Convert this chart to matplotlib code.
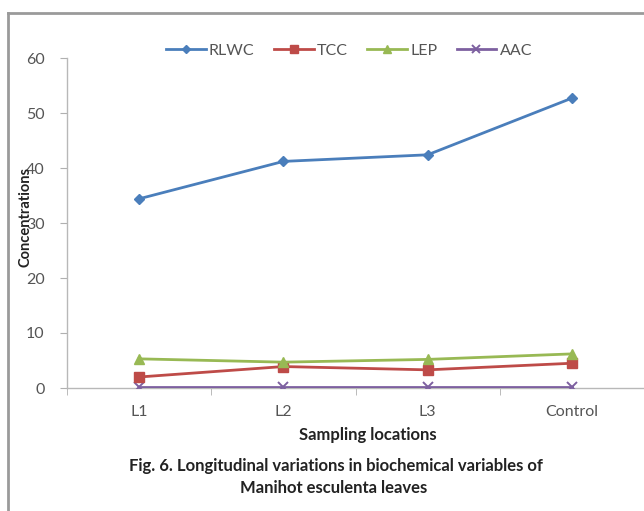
import matplotlib
matplotlib.use("Agg")
import matplotlib.pyplot as plt
from matplotlib.lines import Line2D
import numpy as np

plt.rcParams['font.family'] = ['Lato', 'DejaVu Sans']

categories = ["L1", "L2", "L3", "Control"]
rlwc = [34.4, 41.2, 42.4, 52.7]
tcc = [2.0, 3.9, 3.3, 4.5]
lep = [5.3, 4.7, 5.2, 6.2]
aac = [0.1, 0.1, 0.1, 0.1]
yticks = [0, 10, 20, 30, 40, 50, 60]

W, H = 644, 511
fig = plt.figure(figsize=(W / 100, H / 100), dpi=100)
fig.patch.set_facecolor("white")

# outer chart border (left and top visible)
fig.add_artist(Line2D([8 / W, 8 / W], [0, 1 - 13 / H], transform=fig.transFigure, color="#9a9a9a", lw=2))
fig.add_artist(Line2D([8 / W, 1], [1 - 13 / H, 1 - 13 / H], transform=fig.transFigure, color="#9a9a9a", lw=2))

left, right = 67 / W, 644 / W
bottom, top = 1 - 388 / H, 1 - 58 / H
ax = fig.add_axes([left, bottom, right - left, top - bottom])
x = np.arange(len(categories))

ax.plot(x, rlwc, color="#4A7EBB", lw=2.0, marker="D", ms=5.5, label="RLWC", zorder=5)
ax.plot(x, tcc, color="#BE4B48", lw=2.0, marker="s", ms=6.5, label="TCC", zorder=4)
ax.plot(x, lep, color="#98B954", lw=2.0, marker="^", ms=7.5, label="LEP", zorder=4)
ax.plot(x, aac, color="#7D60A0", lw=2.0, marker="x", ms=6.5, mew=1.4, label="AAC", zorder=3)

ax.set_xlim(-0.5, 3.5)
ax.set_ylim(0, 60)
ax.set_yticks(yticks)
ax.set_xticks(x)
ax.set_xticklabels(categories)
ax.set_xticks(np.arange(-0.5, 3.6, 1.0), minor=True)
ax.tick_params(axis="x", which="major", length=0, pad=12, labelsize=11.5, labelcolor="#555555")
ax.tick_params(axis="x", which="minor", length=5, color="#b0b0b0", direction="out")
ax.tick_params(axis="y", length=5, color="#b0b0b0", direction="out", pad=11, labelsize=11.5, labelcolor="#555555")

for s in ["top", "right"]:
    ax.spines[s].set_visible(False)
ax.spines["left"].set_color("#b8b8b8")
ax.spines["bottom"].set_color("#b8b8b8")
ax.spines["left"].set_linewidth(1)
ax.spines["bottom"].set_linewidth(1)

fig.text(26 / W, 1 - 217 / H, "Concentrations", rotation=90, ha="center", va="center",
         fontsize=10.5, fontweight="bold", color="#222222")
fig.text(368 / W, 1 - 435 / H, "Sampling locations", ha="center", va="center",
         fontsize=12, fontweight="bold", color="#222222")
fig.text(336 / W, 1 - 466 / H, "Fig. 6. Longitudinal variations in biochemical variables of",
         ha="center", va="center", fontsize=12, fontweight="bold", color="#222222")
fig.text(334 / W, 1 - 488 / H, "Manihot esculenta leaves",
         ha="center", va="center", fontsize=12, fontweight="bold", color="#222222")

leg = fig.legend(loc="center", bbox_to_anchor=(349 / W, 1 - 51 / H), ncol=4, frameon=False,
                 fontsize=11.5, handlelength=2.5, columnspacing=1.2, handletextpad=0.2,
                 markerscale=0.8)
for t in leg.get_texts():
    t.set_color("#555555")

fig.savefig("out.png", dpi=100, facecolor="white")
